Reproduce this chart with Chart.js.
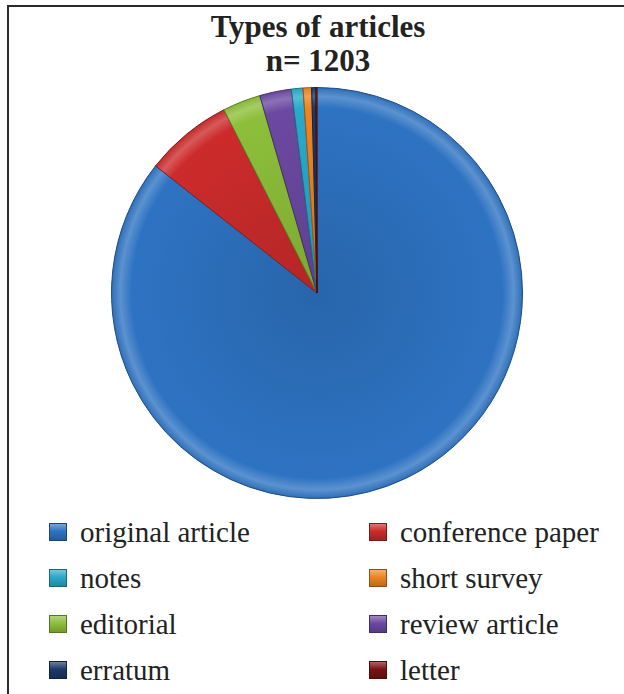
<!DOCTYPE html>
<html>
<head>
<meta charset="utf-8">
<script src="https://cdn.jsdelivr.net/npm/chart.js@4.4.1/dist/chart.umd.min.js"></script>
<style>
    body { margin: 0; background: #fff; width: 624px; height: 694px; position: relative; overflow: hidden; font-family: "Liberation Serif", serif; color: #222; }
    #frame { position: absolute; left: 7px; top: 5px; width: 640px; height: 720px; border-top: 2px solid #2b2b2b; border-left: 2px solid #2b2b2b; }
    #title { position: absolute; left: 6px; width: 624px; top: 10px; text-align: center; font-weight: bold; font-size: 31px; line-height: 34px; }
    #pieBox { position: absolute; left: 111px; top: 87px; width: 412px; height: 412px; }
    #legend { position: absolute; left: 49px; top: 509px; display: grid; grid-template-columns: 320px 250px; }
    .item { display: flex; align-items: center; height: 46px; font-size: 29px; white-space: nowrap; }
    .box { width: 18px; height: 18px; margin-right: 13px; box-sizing: border-box; }
</style>
</head>
<body>
<div id="frame"></div>
<div id="title">Types of articles<br>n= 1203</div>
<div id="pieBox"><canvas id="chartTypes"></canvas></div>
<div id="legend"></div>
<script>
// slices in drawing order, clockwise from 12 o'clock
var typeLabels = ["original article", "conference paper", "editorial", "review article", "notes", "short survey", "erratum", "letter"];
var typeCounts = [1030, 83, 36, 30, 11, 8, 4, 1];
var typeColors = ["#2e73c2", "#cc2b2b", "#8dbf3a", "#6b49a1", "#2aa9ca", "#ee8421", "#1b3a68", "#7a1212"];
// legend is read row by row, two columns
var legendOrder = ["original article", "conference paper", "notes", "short survey", "editorial", "review article", "erratum", "letter"];

function shade(hex, amt) {
    var n = parseInt(hex.slice(1), 16);
    var r = n >> 16, g = (n >> 8) & 255, b = n & 255;
    var f = function (c) {
        c = amt < 0 ? c * (1 + amt) : c + (255 - c) * amt;
        return Math.round(Math.max(0, Math.min(255, c)));
    };
    return "rgb(" + f(r) + "," + f(g) + "," + f(b) + ")";
}

function sliceFill(context) {
    var chart = context.chart;
    var area = chart.chartArea;
    var base = typeColors[context.dataIndex];
    if (!area) return base;
    var cx = (area.left + area.right) / 2;
    var cy = (area.top + area.bottom) / 2;
    var r = Math.min(area.right - area.left, area.bottom - area.top) / 2;
    var grad = chart.ctx.createRadialGradient(cx, cy, 0, cx, cy, r);
    grad.addColorStop(0, shade(base, -0.12));
    grad.addColorStop(0.9, base);
    grad.addColorStop(0.955, shade(base, 0.22));
    grad.addColorStop(1, shade(base, -0.05));
    return grad;
}

var chart = new Chart(document.getElementById("chartTypes"), {
    type: 'pie',
    data: {
        labels: typeLabels,
        datasets: [{
            data: typeCounts,
            backgroundColor: sliceFill,
            borderColor: typeColors.map(function (c) { return shade(c, -0.35); }),
            borderWidth: 1
        }]
    },
    options: {
        responsive: true,
        maintainAspectRatio: false,
        animation: false,
        layout: { padding: 0 },
        plugins: {
            legend: { display: false },
            tooltip: { enabled: false }
        }
    }
});

// html legend in two columns
var legendEl = document.getElementById("legend");
legendOrder.forEach(function (name) {
    var i = typeLabels.indexOf(name);
    var item = document.createElement("div");
    item.className = "item";
    var box = document.createElement("span");
    box.className = "box";
    box.style.background = "linear-gradient(180deg, " + shade(typeColors[i], 0.35) + ", " + typeColors[i] + " 45%, " + shade(typeColors[i], -0.2) + ")";
    box.style.border = "1px solid " + shade(typeColors[i], -0.4);
    item.appendChild(box);
    item.appendChild(document.createTextNode(name));
    legendEl.appendChild(item);
});
</script>
</body>
</html>
